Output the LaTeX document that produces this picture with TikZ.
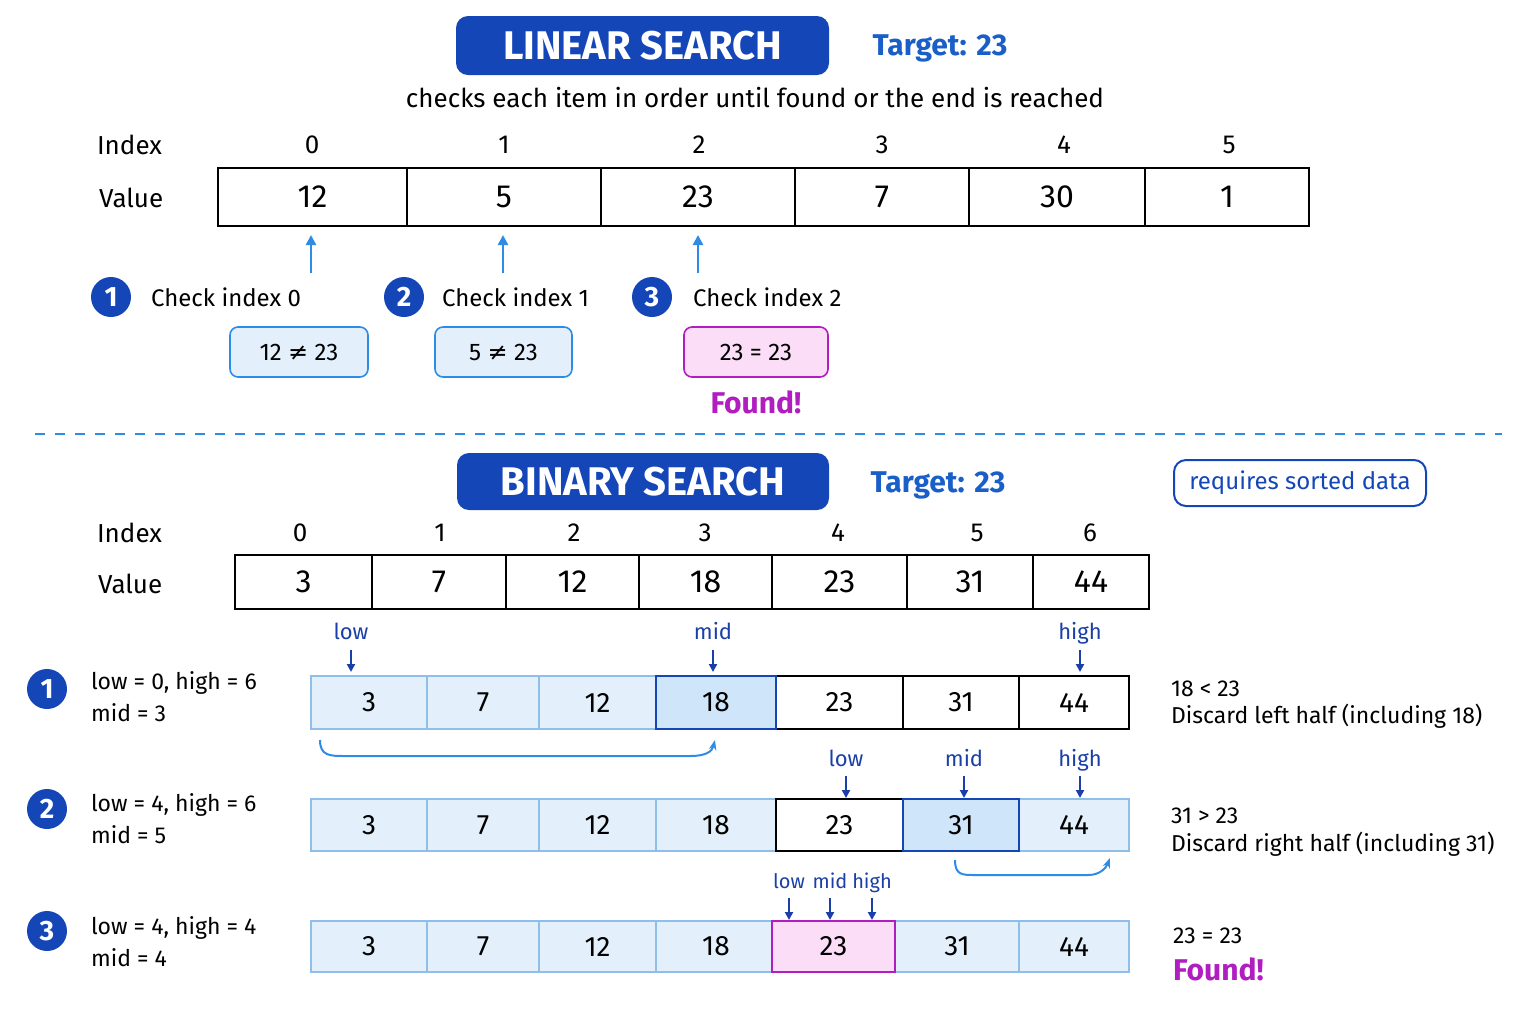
\documentclass[tikz,border=0pt]{standalone}
\usepackage{fontspec}
\setmainfont{Fira Sans}
\newfontfamily\djfont{DejaVu Sans}
\usetikzlibrary{arrows.meta}
\definecolor{dblue}{HTML}{1446B8}
\definecolor{mblue}{HTML}{1A5FC8}
\definecolor{lblue}{HTML}{E3F0FC}
\definecolor{lbord}{HTML}{8FBFE8}
\definecolor{hblue}{HTML}{CFE5FA}
\definecolor{abl}{HTML}{2E8BE6}
\definecolor{mag}{HTML}{B01EC0}
\definecolor{pinkf}{HTML}{FBDDF7}
\definecolor{ptr}{HTML}{1A3FA8}
\begin{document}
\begin{tikzpicture}[x=0.5pt,y=-0.5pt,
 title/.style={fill=dblue,rounded corners=6pt,text=white,font=\fontsize{20}{24}\selectfont\bfseries,inner sep=0},
 target/.style={text=mblue,font=\fontsize{15}{18}\selectfont\bfseries},
 lab/.style={font=\fontsize{13}{16}\selectfont},
 idx/.style={font=\fontsize{13}{16}\selectfont},
 cell/.style={draw=black,line width=1pt,inner sep=0,outer sep=0,font=\fontsize{16}{19}\selectfont},
 bcell/.style={draw=lbord,fill=lblue,line width=0.6pt,inner sep=0,outer sep=0,font=\fontsize{14}{17}\selectfont},
 num/.style={circle,fill=dblue,text=white,minimum size=20pt,inner sep=0,font=\fontsize{14}{16}\selectfont\bfseries},
 cmp/.style={draw=abl,fill=lblue,rounded corners=4pt,line width=0.8pt,inner sep=0,minimum height=25pt,font=\fontsize{12}{14}\selectfont},
 up/.style={-{Triangle[length=5pt,width=5pt]},abl,line width=1.2pt},
 dn/.style={-{Triangle[length=4pt,width=4pt]},ptr,line width=1pt},
 ptl/.style={text=ptr,font=\fontsize{11}{13}\selectfont},
 txt/.style={font=\fontsize{11.5}{14}\selectfont,anchor=west},
 found/.style={text=mag,font=\fontsize{15}{18}\selectfont\bfseries}]
\useasboundingbox (0,0) rectangle (1536,1024);
% ---------- linear
\node[title,minimum width=186.5pt,minimum height=29.5pt] (lt) at (642.5,45.5) {LINEAR SEARCH};
\node[target] (ltg) at (940,48) {Target: 23};
\node[font=\fontsize{13}{16}\selectfont] (lsub) at (755,98) {checks each item in order until found or the end is reached};
\node[lab,anchor=west] (lix) at (90,145) {Index};
\node[lab,anchor=west] (lva) at (92,198) {Value};
\foreach \a/\b/\v [count=\i from 0] in {218/407/12,407/601/5,601/795/23,795/969/7,969/1145/30,1145/1309/1}{
 \node[cell,minimum width={(\b-\a)*0.5pt},minimum height=29pt] (lc\i) at ({(\a+\b)/2},197) {\v};
}
\foreach \x/\i in {312/0,504/1,699/2,882/3,1064/4,1229/5}{\node[idx] (li\i) at (\x,145) {\i};}
\foreach \x/\i in {311/0,503/1,698/2}{
 \coordinate (ua\i) at (\x,273);\coordinate (ub\i) at (\x,235);
 \draw[up] (ua\i) -- (ub\i);}
\node[num] (n1) at (111,297) {1};
\node[num] (n2) at (404,297) {2};
\node[num] (n3) at (652,297) {3};
\node[txt,font=\fontsize{12}{15}\selectfont] (c1) at (144,297) {Check index 0};
\node[txt,font=\fontsize{12}{15}\selectfont] (c2) at (435,297) {Check index 1};
\node[txt,font=\fontsize{12}{15}\selectfont] (c3) at (686,297) {Check index 2};
\node[cmp,minimum width=69pt] (k1) at (299,352) {12 {\djfont≠} 23};
\node[cmp,minimum width=68.5pt] (k2) at (503.5,352) {5 {\djfont≠} 23};
\node[cmp,draw=mag,fill=pinkf,minimum width=72pt] (k3) at (756,352) {23 = 23};
\node[found] (f1) at (756,402) {Found!};
\coordinate (d1) at (35,434); \coordinate (d2) at (1502,434);
\draw[abl,line width=1pt,dash pattern=on 5pt off 5pt] (d1) -- (d2);
% ---------- binary
\node[title,minimum width=186pt,minimum height=28.5pt] (bt) at (643,481.5) {BINARY SEARCH};
\node[target] (btg) at (938,485) {Target: 23};
\node[draw=dblue,line width=1pt,rounded corners=6pt,text=dblue,minimum width=126pt,minimum height=23pt,inner sep=0,font=\fontsize{12}{14}\selectfont] (req) at (1300,483) {requires sorted data};
\node[lab,anchor=west] (bix) at (90,533) {Index};
\node[lab,anchor=west] (bva) at (91,584) {Value};
\foreach \a/\b/\v [count=\i from 0] in {235/372/3,372/506/7,506/639/12,639/772/18,772/907/23,907/1033/31,1033/1149/44}{
 \node[cell,minimum width={(\b-\a)*0.5pt},minimum height=27pt] (bc\i) at ({(\a+\b)/2},582) {\v};
}
\foreach \x/\i in {300/0,440/1,574/2,705/3,838/4,977/5,1090/6}{\node[idx] (bi\i) at (\x,533) {\i};}
% rows
\def\bnd{311/427/3,427/539/7,539/656/12,656/776/18,776/903/23,903/1019/31,1019/1129/44}
\foreach \a/\b/\v [count=\i from 0] in \bnd{
 \ifnum\i<3 \node[bcell,minimum width={(\b-\a)*0.5pt},minimum height=26.5pt] (ra\i) at ({(\a+\b)/2},702.5) {\v};\fi
 \ifnum\i>3 \node[bcell,draw=black,fill=white,line width=1pt,minimum width={(\b-\a)*0.5pt},minimum height=26.5pt] (ra\i) at ({(\a+\b)/2},702.5) {\v};\fi
 \ifnum\i=4 \node[bcell,draw=black,fill=white,line width=1pt,minimum width={(\b-\a)*0.5pt},minimum height=26pt] (rb\i) at ({(\a+\b)/2},825) {\v};\fi
 \ifnum\i<4 \node[bcell,minimum width={(\b-\a)*0.5pt},minimum height=26pt] (rb\i) at ({(\a+\b)/2},825) {\v};\fi
 \ifnum\i=6 \node[bcell,minimum width={(\b-\a)*0.5pt},minimum height=26pt] (rb\i) at ({(\a+\b)/2},825) {\v};\fi
 \ifnum\i<4 \node[bcell,minimum width={(\b-\a)*0.5pt},minimum height=25.5pt] (rc\i) at ({(\a+\b)/2},946.5) {\v};\fi
 \ifnum\i=6 \node[bcell,minimum width={(\b-\a)*0.5pt},minimum height=25.5pt] (rc\i) at ({(\a+\b)/2},946.5) {\v};\fi
}
\node[bcell,minimum width=62pt,minimum height=25.5pt] (rc5) at (957,946.5) {31};
\node[bcell,draw=dblue,fill=hblue,line width=1.4pt,minimum width=60pt,minimum height=26.5pt] (ra3) at (716,702.5) {18};
\node[bcell,draw=dblue,fill=hblue,line width=1.4pt,minimum width=58pt,minimum height=26pt] (rb5) at (961,825) {31};
\node[bcell,draw=mag,fill=pinkf,line width=1.4pt,minimum width=61.5pt,minimum height=25.5pt] (rc4) at (833.5,946.5) {23};
% pointers
\foreach \n/\x/\ty/\ay/\t/\fs in {p1/351/634/650/low/11,p2/713/634/650/mid/11,p3/1080/634/650/high/11,
 p4/846/761/776/low/11,p5/964/761/776/mid/11,p6/1080/761/776/high/11,
 p7/789/883/898/low/10,p8/830/883/898/mid/10,p9/872/883/898/high/10}{
 \node[ptl,font=\fontsize{\fs}{13}\selectfont,text height=1.3ex,text depth=0.3ex] (\n) at (\x,\ty) {\t};
 \coordinate (\n a) at (\x,\ay); \coordinate (\n b) at (\x,{\ay+22});
 \draw[dn] (\n a) -- (\n b);}
% curves
\coordinate (q1) at (320,740); \coordinate (q2) at (715,740);
\draw[abl,line width=1pt,-{Stealth[length=5pt]}] (q1) .. controls (320,756) and (330,756) .. (345,756) -- (690,756) .. controls (705,756) and (712,752) .. (q2);
\coordinate (q3) at (955,860); \coordinate (q4) at (1110,858);
\draw[abl,line width=1pt,-{Stealth[length=5pt]}] (q3) .. controls (955,875) and (962,875) .. (975,875) -- (1088,875) .. controls (1100,875) and (1106,868) .. (q4);
% left labels
\node[num] (m1) at (47,689) {1};
\node[num] (m2) at (47,809) {2};
\node[num] (m3) at (47,931) {3};
\node[txt] (s1a) at (84,683) {low = 0, high = 6};
\node[txt] (s1b) at (84,713) {mid = 3};
\node[txt] (s2a) at (84,805) {low = 4, high = 6};
\node[txt] (s2b) at (84,835) {mid = 5};
\node[txt] (s3a) at (84,928) {low = 4, high = 4};
\node[txt] (s3b) at (84,958) {mid = 4};
% right labels
\node[txt] (r1a) at (1164,689) {18 < 23};
\node[txt] (r1b) at (1164,716) {Discard left half (including 18)};
\node[txt] (r2a) at (1164,816) {31 > 23};
\node[txt] (r2b) at (1164,844) {Discard right half (including 31)};
\node[txt] (r3a) at (1166,936) {23 = 23};
\node[found,anchor=west] (r3b) at (1166,969) {Found!};
\end{tikzpicture}
\end{document}
